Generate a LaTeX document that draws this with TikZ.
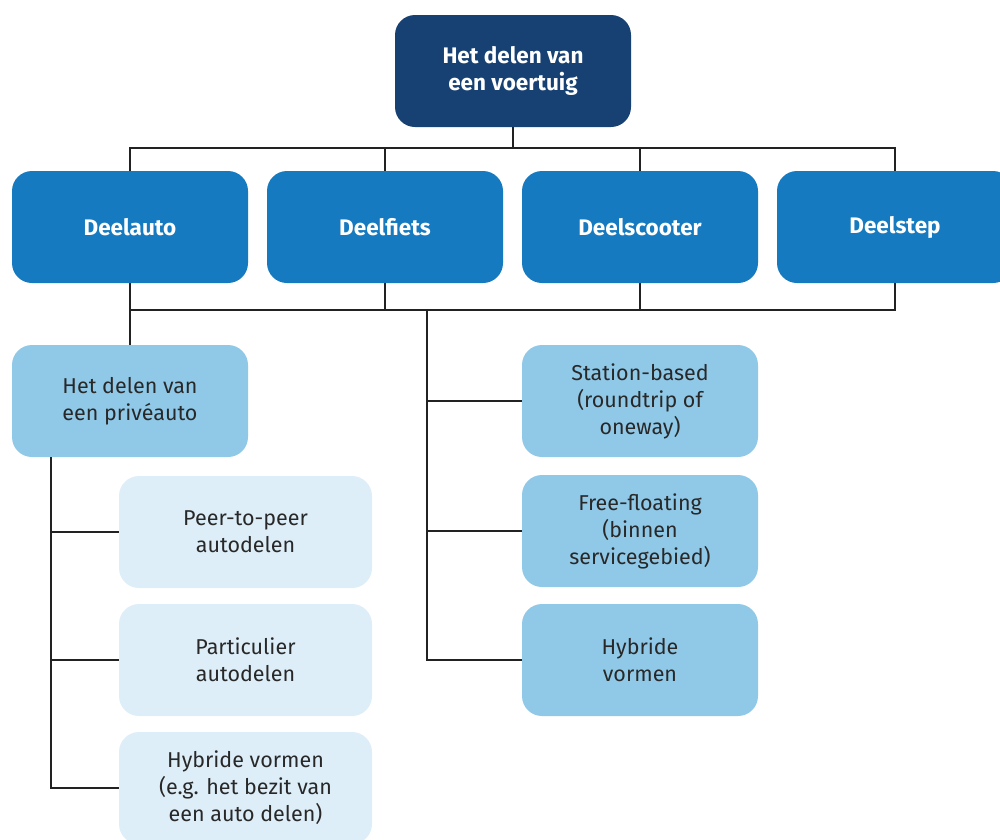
\documentclass[tikz,border=0pt]{standalone}
\usepackage{fontspec}
\setmainfont{Fira Sans}
\usepackage{tikz}
\usetikzlibrary{positioning,calc}
\usepackage{xcolor}
\definecolor{rootblue}{RGB}{23,65,114}
\definecolor{vehblue}{RGB}{21,122,191}
\definecolor{typeblue}{RGB}{144,201,232}
\definecolor{subblue}{RGB}{221,238,248}
\definecolor{textgray}{RGB}{40,40,40}
\definecolor{linegray}{RGB}{34,34,34}

\begin{document}
\begin{tikzpicture}[
    x=1pt, y=-1pt,
    every node/.style={rectangle, rounded corners=20pt, align=center, inner sep=0pt,
        minimum width=236pt, minimum height=112pt, font=\fontsize{21.5}{27}\selectfont},
    rootbox/.style={fill=rootblue, text=white, font=\fontsize{22.5}{27}\selectfont\bfseries},
    vehbox/.style={fill=vehblue, text=white, font=\fontsize{22.5}{27}\selectfont\bfseries},
    typebox/.style={fill=typeblue, text=textgray},
    subbox/.style={fill=subblue, text=textgray, minimum width=253pt},
    conn/.style={draw=linegray, line width=1.8pt}
]
    \useasboundingbox (0,0) rectangle (1000,839);

    % top level
    \node [rootbox] (root) at (513,71) {Het delen van\\een voertuig};

    % vehicles
    \node [vehbox] (auto)    at (130,227) {Deelauto};
    \node [vehbox] (fiets)   at (385,227) {Deelfiets};
    \node [vehbox] (scooter) at (640,227) {Deelscooter};
    \node [vehbox] (step)    at (895,227) {Deelstep};

    % sharing types
    \node [typebox] (prive)    at (130,401) {Het delen van\\een privéauto};
    \node [typebox] (station)  at (640,401) {Station-based\\(roundtrip of\\oneway)};
    \node [typebox] (floating) at (640,531) {Free-floating\\(binnen\\servicegebied)};
    \node [typebox] (hybr)     at (640,660) {Hybride\\vormen};

    % private car sharing
    \node [subbox] (p2p)   at (245.5,532) {Peer-to-peer\\autodelen};
    \node [subbox] (part)  at (245.5,660) {Particulier\\autodelen};
    \node [subbox] (hybp)  at (245.5,788) {Hybride vormen\\(e.g. het bezit van\\een auto delen)};

    % buses
    \coordinate (topbus) at (513,148);
    \coordinate (lowbus) at (513,310);
    \coordinate (rtrunk) at (427,310);
    \coordinate (ltrunk) at (51,457);

    \draw [conn] (root.south) -- (topbus);
    \draw [conn] (auto.north) |- (topbus) -| (step.north);
    \foreach \n in {fiets,scooter}
        \draw [conn] (\n.north) -- (\n.north |- topbus);

    \draw [conn] (auto.south) |- (lowbus) -| (step.south);
    \foreach \n in {fiets,scooter}
        \draw [conn] (\n.south) -- (\n.south |- lowbus);
    \draw [conn] (auto.south) -- (prive.north);

    \foreach \n in {station,floating,hybr}
        \draw [conn] (rtrunk) |- (\n.west);
    \foreach \n in {p2p,part,hybp}
        \draw [conn] (ltrunk) |- (\n.west);
\end{tikzpicture}
\end{document}
